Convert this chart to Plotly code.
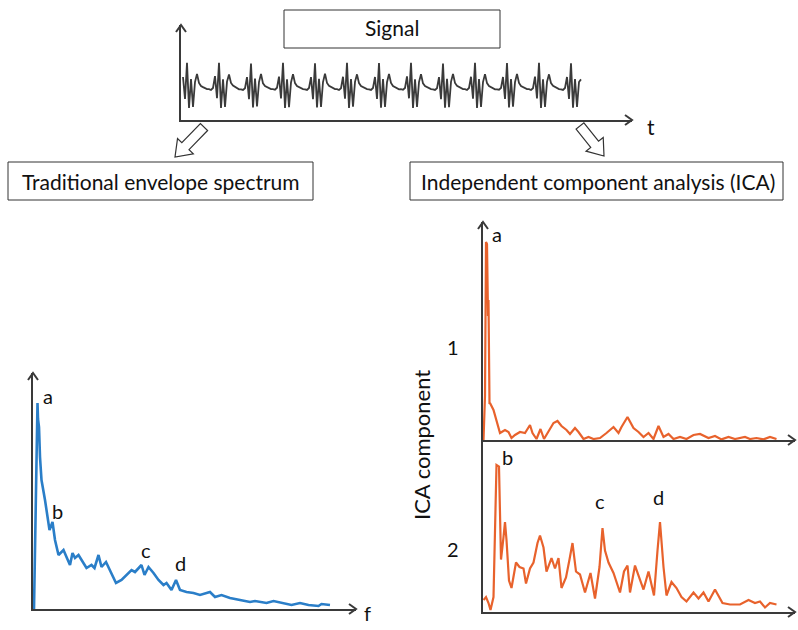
import numpy as np
import plotly.graph_objects as go

W, H = 798, 630

# ---------------- data ----------------
# time signal (amplitude, arbitrary units), sampled every 0.5 ms
signal_amp = [
    0.41, -0.59, 1.05, -1.0, 0.32, -0.95, 0.18, 0.55, 0.14, 0.0, -0.05, -0.09, -0.14,
    -0.14, -0.18, -0.09, 0.45, -0.55, 1.05, -1.0, 0.30, -0.95, 0.20, 0.52, 0.14, 0.02, -0.05, -0.09, -0.15,
    -0.15, -0.18, -0.10, 0.40, -0.60, 1.02, -0.98, 0.34, -0.93, 0.18, 0.55, 0.12, 0.0, -0.05, -0.10, -0.14,
    -0.14, -0.17, -0.08, 0.43, -0.57, 1.05, -1.0, 0.30, -0.96, 0.16, 0.54, 0.13, 0.0, -0.06, -0.09, -0.14,
    -0.15, -0.18, -0.09, 0.40, -0.60, 1.03, -0.98, 0.33, -0.95, 0.18, 0.56, 0.14, 0.01, -0.05, -0.09, -0.14,
    -0.14, -0.18, -0.10, 0.42, -0.58, 1.05, -1.0, 0.31, -0.94, 0.19, 0.53, 0.13, 0.0, -0.05, -0.10, -0.14,
    -0.15, -0.18, -0.09, 0.41, -0.59, 1.04, -0.99, 0.32, -0.95, 0.17, 0.55, 0.14, 0.0, -0.04, -0.09, -0.15,
    -0.14, -0.17, -0.09, 0.44, -0.56, 1.05, -1.0, 0.30, -0.95, 0.18, 0.54, 0.12, 0.0, -0.05, -0.09, -0.14,
    -0.15, -0.18, -0.10, 0.40, -0.60, 1.02, -0.99, 0.33, -0.96, 0.19, 0.55, 0.14, 0.01, -0.05, -0.10, -0.14,
    -0.14, -0.18, -0.09, 0.42, -0.58, 1.05, -1.0, 0.31, -0.95, 0.18, 0.54, 0.13, 0.0, -0.05, -0.09, -0.15,
    -0.15, -0.17, -0.09, 0.41, -0.59, 1.04, -0.98, 0.32, -0.94, 0.17, 0.55, 0.14, 0.0, -0.06, -0.09, -0.14,
    -0.14, -0.18, -0.10, 0.43, -0.57, 1.05, -1.0, 0.30, -0.95, 0.19, 0.53, 0.13, 0.01, -0.05, -0.10, -0.14,
    -0.15, -0.18, -0.09, 0.41, -0.59, 1.03, -0.99, 0.32, -0.95, 0.18, 0.30,
]
signal_t = np.arange(len(signal_amp)) * 0.5  # ms sampling grid

# traditional envelope spectrum
env_f = [2, 4, 7, 9, 10, 12, 14, 17, 24, 33, 39, 44, 51, 61, 67, 74, 79, 84, 91, 97,
         107, 117, 123, 131, 137, 146, 154, 166, 177, 187, 197, 204, 211, 217, 223, 231,
         241, 251, 261, 267, 277, 286, 294, 307, 321, 334, 354, 364, 377, 394, 414, 434,
         444, 467, 481, 501, 517, 534, 551, 571, 577, 594]
env_a = [0.0, 0.35, 0.90, 1.03, 0.95, 0.91, 0.76, 0.645, 0.545, 0.395, 0.435, 0.345, 0.27,
         0.295, 0.26, 0.22, 0.28, 0.255, 0.27, 0.245, 0.205, 0.22, 0.205, 0.27, 0.21, 0.235,
         0.195, 0.13, 0.145, 0.17, 0.195, 0.185, 0.205, 0.22, 0.17, 0.21, 0.18, 0.145, 0.12,
         0.13, 0.095, 0.145, 0.095, 0.085, 0.08, 0.07, 0.085, 0.06, 0.07, 0.055, 0.045, 0.035,
         0.04, 0.03, 0.04, 0.03, 0.02, 0.03, 0.02, 0.015, 0.025, 0.02]

# ICA component 1
ica1_f = [1, 4, 6, 8, 10, 11, 13, 14, 21, 27, 34, 44, 51, 57, 64, 74, 84, 94, 99, 107,
          115, 122, 131, 141, 149, 157, 167, 174, 184, 191, 201, 211, 221, 234, 247, 261,
          271, 277, 289, 301, 311, 321, 331, 341, 351, 361, 371, 381, 394, 407, 421, 434,
          451, 464, 477, 491, 504, 524, 534, 547, 561, 574, 587]
ica1_a = [0.0, 0.22, 0.99, 0.98, 0.62, 0.70, 0.18, 0.185, 0.15, 0.10, 0.035, 0.05, 0.04,
          0.01, 0.025, 0.04, 0.035, 0.075, 0.035, 0.005, 0.055, 0.005, 0.04, 0.085, 0.095,
          0.07, 0.05, 0.03, 0.06, 0.04, 0.005, 0.015, 0.005, 0.01, 0.035, 0.065, 0.035, 0.065,
          0.115, 0.06, 0.04, 0.015, 0.035, 0.005, 0.07, 0.015, 0.03, 0.005, 0.015, 0.005,
          0.025, 0.03, 0.01, 0.02, 0.003, 0.015, 0.005, 0.015, 0.005, 0.01, 0.003, 0.015, 0.005]

# ICA component 2
ica2_f = [1, 6, 11, 15, 21, 24, 27, 32, 36, 41, 44, 47, 52, 57, 66, 73, 81, 86, 94, 101,
          109, 114, 121, 127, 137, 144, 151, 157, 166, 173, 179, 186, 194, 204, 215, 224,
          233, 239, 244, 251, 261, 274, 282, 289, 294, 304, 313, 321, 331, 342, 349, 354,
          361, 367, 377, 387, 397, 407, 421, 431, 441, 451, 464, 479, 494, 514, 531, 544,
          554, 564, 574, 587]
ica2_a = [0.08, 0.10, 0.06, 0.013, 0.10, 0.48, 0.98, 0.97, 0.35, 0.50, 0.60, 0.48, 0.21,
          0.16, 0.33, 0.30, 0.29, 0.19, 0.29, 0.33, 0.46, 0.51, 0.43, 0.27, 0.36, 0.29, 0.36,
          0.16, 0.23, 0.35, 0.46, 0.27, 0.25, 0.13, 0.26, 0.09, 0.30, 0.56, 0.41, 0.33, 0.26,
          0.13, 0.27, 0.31, 0.13, 0.31, 0.23, 0.15, 0.27, 0.11, 0.41, 0.60, 0.30, 0.11, 0.20,
          0.16, 0.10, 0.07, 0.13, 0.09, 0.13, 0.07, 0.15, 0.06, 0.05, 0.05, 0.08, 0.06, 0.07,
          0.03, 0.06, 0.05]

peak_labels_env = ["a", "b", "c", "d"]
peak_labels_ica1 = ["a"]
peak_labels_ica2 = ["b", "c", "d"]

# ---------------- layout helpers ----------------
def px(x):
    return x / W

def py(y):
    return 1 - y / H

FONT = "Lato, Carlito, Calibri, 'Open Sans', sans-serif"
AX = "#3a3a3a"
BLUE = "#2a7ec8"
ORANGE = "#e8622c"
GRAY = "#3a3a3a"

fig = go.Figure()
fig.add_trace(go.Scatter(x=signal_t, y=signal_amp, mode="lines",
                         line=dict(color=GRAY, width=1.8), xaxis="x", yaxis="y",
                         hoverinfo="skip"))
fig.add_trace(go.Scatter(x=env_f, y=env_a, mode="lines",
                         line=dict(color=BLUE, width=2.6), xaxis="x2", yaxis="y2",
                         hoverinfo="skip"))
fig.add_trace(go.Scatter(x=ica1_f, y=ica1_a, mode="lines",
                         line=dict(color=ORANGE, width=2.2), xaxis="x3", yaxis="y3",
                         hoverinfo="skip"))
fig.add_trace(go.Scatter(x=ica2_f, y=ica2_a, mode="lines",
                         line=dict(color=ORANGE, width=2.2), xaxis="x4", yaxis="y4",
                         hoverinfo="skip"))

def ax(domain, rng, anchor, showline=True):
    return dict(domain=domain, range=rng, anchor=anchor, showline=showline,
                linecolor=AX, linewidth=2, showgrid=False, zeroline=False,
                showticklabels=False, ticks="", fixedrange=True)

# pixel frames of each panel: (left, right, bottom, top)
sig = (181, 632, 120, 25)
env = (33, 356, 609, 373)
ic1 = (483, 795, 440, 222)
ic2 = (483, 795, 612, 440)

layout = dict(
    width=W, height=H, autosize=False,
    margin=dict(l=0, r=0, t=0, b=0),
    paper_bgcolor="white", plot_bgcolor="rgba(0,0,0,0)",
    showlegend=False,
    xaxis=ax([px(sig[0]), px(sig[1])], [-0.5, 112.25], "y"),
    yaxis=ax([py(sig[2]), py(sig[3])], [(86 - 120) / 22, (86 - 25) / 22], "x"),
    xaxis2=ax([px(env[0]), px(env[1])], [0, 646], "y2"),
    yaxis2=ax([py(env[2]), py(env[3])], [0, 1.18], "x2"),
    xaxis3=ax([px(ic1[0]), px(ic1[1])], [0, 624], "y3"),
    yaxis3=ax([py(ic1[2]), py(ic1[3])], [0, 1.09], "x3"),
    xaxis4=ax([px(ic2[0]), px(ic2[1])], [0, 624], "y4"),
    yaxis4=ax([py(ic2[2]), py(ic2[3])], [0, 1.147], "x4"),
)
fig.update_layout(**layout)

shapes = []

def chevron(x, y, direction, size=7, half=5):
    if direction == "up":
        pts = [(x - half, y + size), (x, y), (x + half, y + size)]
    else:
        pts = [(x - size, y - half), (x, y), (x - size, y + half)]
    path = "M {} {} L {} {} L {} {}".format(*[v for p in pts for v in (px(p[0]), py(p[1]))])
    shapes.append(dict(type="path", path=path, xref="paper", yref="paper",
                       line=dict(color=AX, width=2)))

chevron(sig[0], sig[3], "up")
chevron(sig[1], sig[2], "right")
chevron(env[0], env[3], "up")
chevron(env[1], env[2], "right")
chevron(ic1[0], ic1[3], "up")
chevron(ic1[1], ic1[2], "right")
chevron(ic2[1], ic2[2], "right")

def box(x0, y0, x1, y1):
    shapes.append(dict(type="rect", xref="paper", yref="paper",
                       x0=px(x0), x1=px(x1), y0=py(y1), y1=py(y0),
                       line=dict(color="#333333", width=1), fillcolor="white"))

box(284, 10, 500, 48)
box(8, 162, 313, 200)
box(410, 162, 783, 200)

def block_arrow(tail, tip, shaft=5, head=11, head_len=15):
    tx, ty = tail
    hx, hy = tip
    dx, dy = hx - tx, hy - ty
    L = (dx * dx + dy * dy) ** 0.5
    ux, uy = dx / L, dy / L
    vx, vy = -uy, ux
    local = [(0, -shaft), (L - head_len, -shaft), (L - head_len, -head), (L, 0),
             (L - head_len, head), (L - head_len, shaft), (0, shaft)]
    pts = [(tx + u * ux + v * vx, ty + u * uy + v * vy) for u, v in local]
    path = "M " + " L ".join("{} {}".format(px(a), py(b)) for a, b in pts) + " Z"
    shapes.append(dict(type="path", path=path, xref="paper", yref="paper",
                       line=dict(color="#333333", width=1.2), fillcolor="white"))

block_arrow((204, 127), (175, 157))
block_arrow((580, 126), (604, 156))

fig.update_layout(shapes=shapes)

ann = []

def text(x, y, s, size=21, angle=0):
    ann.append(dict(x=px(x), y=py(y), xref="paper", yref="paper", text=s,
                    showarrow=False, xanchor="center", yanchor="middle", textangle=angle,
                    borderpad=0,
                    font=dict(family=FONT, size=size, color="#111111")))

text(392, 28, "Signal")
text(651, 127, "t")
text(161, 181, "Traditional envelope spectrum")
text(598, 181, "Independent component analysis (ICA)")
text(367, 613, "f", size=20)
for lab, (x, y) in zip(peak_labels_env, [(48, 396), (57, 511), (146, 550), (180, 563)]):
    text(x, y, lab, size=20)
for lab, (x, y) in zip(peak_labels_ica1, [(497, 234)]):
    text(x, y, lab, size=20)
for lab, (x, y) in zip(peak_labels_ica2, [(507, 457), (600, 501), (658, 497)]):
    text(x, y, lab, size=20)
text(453, 347, "1", size=20)
text(453, 549, "2", size=20)
text(421, 445, "ICA component", size=22, angle=-90)

fig.update_layout(annotations=ann)

fig.write_html("out.html", config=dict(displayModeBar=False, staticPlot=True))
